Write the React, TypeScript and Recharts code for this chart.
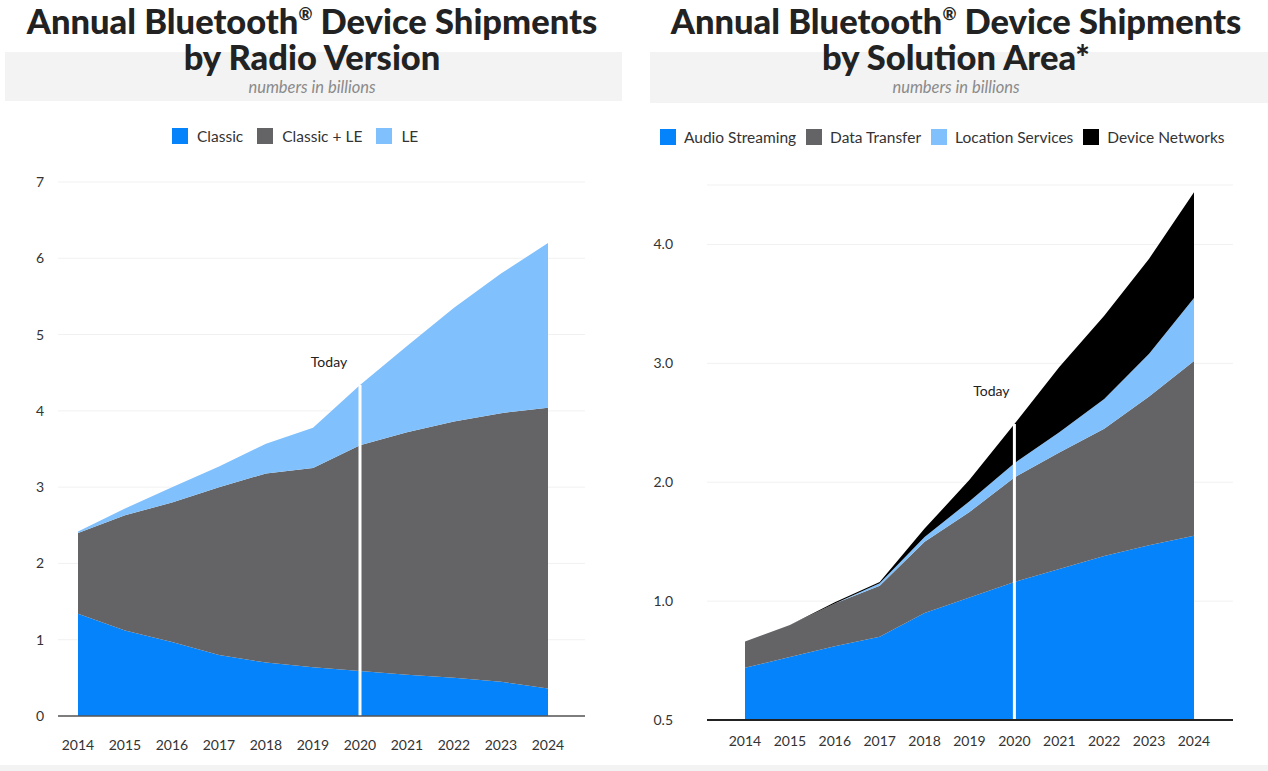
import React from 'react';
import { AreaChart, Area, XAxis, YAxis, CartesianGrid, ReferenceLine } from 'recharts';

// shared x categories
const years = ['2014', '2015', '2016', '2017', '2018', '2019', '2020', '2021', '2022', '2023', '2024'];
const todayYear = '2020';

// left chart: by radio version (billions, stacked)
const classic = [1.34, 1.12, 0.97, 0.8, 0.7, 0.64, 0.59, 0.54, 0.5, 0.45, 0.36];
const classicLe = [1.06, 1.51, 1.83, 2.2, 2.48, 2.61, 2.96, 3.18, 3.36, 3.52, 3.68];
const le = [0.02, 0.09, 0.2, 0.27, 0.39, 0.53, 0.79, 1.13, 1.49, 1.83, 2.16];
const radioTicks = [0, 1, 2, 3, 4, 5, 6, 7];

// right chart: by solution area. The source axis puts its labels evenly spaced
// (0.5, 1.0, 2.0, 3.0, 4.0), so values are read in those label steps.
const audio = [0.44, 0.53, 0.62, 0.7, 0.9, 1.03, 1.16, 1.27, 1.38, 1.47, 1.55];
const dataTransfer = [0.22, 0.27, 0.36, 0.43, 0.6, 0.72, 0.88, 0.98, 1.07, 1.25, 1.47];
const locationServices = [0, 0, 0, 0.02, 0.04, 0.09, 0.12, 0.17, 0.25, 0.36, 0.53];
const deviceNetworks = [0, 0, 0.01, 0.01, 0.07, 0.18, 0.33, 0.55, 0.7, 0.8, 0.89];
const solutionTicks = [0, 1, 2, 3, 4];
const solutionTickLabels = ['0.5', '1.0', '2.0', '3.0', '4.0'];

const BLUE = '#0583fb';
const GRAY = '#646466';
const LIGHT = '#80c0fc';
const BLACK = '#000000';

const radioData = years.map((year, i) => ({
  year,
  classic: classic[i],
  classicLe: classicLe[i],
  le: le[i],
}));

const solutionData = years.map((year, i) => ({
  year,
  audio: audio[i],
  dataTransfer: dataTransfer[i],
  locationServices: locationServices[i],
  deviceNetworks: deviceNetworks[i],
}));

const ti = years.indexOf(todayYear);
const radioToday = classic[ti] + classicLe[ti] + le[ti];
const solutionToday = audio[ti] + dataTransfer[ti] + locationServices[ti] + deviceNetworks[ti];

const FONT = 'Lato, "Open Sans", sans-serif';
const tickStyle = { fill: '#333', fontSize: 14, fontFamily: FONT };

const todayLabel = (dx: number, dy: number) => (props: any) => {
  const vb = props.viewBox || {};
  return (
    <text x={vb.x + dx} y={vb.y + dy} textAnchor="middle" fill="#222" fontSize={14} fontFamily={FONT}>
      Today
    </text>
  );
};

const Header = ({ left, width, line2, bandLeft, bandWidth, bandHeight }: any) => (
  <div style={{ position: 'absolute', left, top: 0, width }}>
    <div
      style={{
        position: 'absolute',
        left: bandLeft,
        top: 52,
        width: bandWidth,
        height: bandHeight,
        background: '#f3f3f3',
      }}
    />
    <div
      style={{
        position: 'absolute',
        left: 0,
        top: 3,
        width,
        textAlign: 'center',
        fontFamily: FONT,
        fontWeight: 900,
        fontSize: 34.5,
        lineHeight: '36px',
        color: '#222',
        whiteSpace: 'nowrap',
      }}
    >
      Annual Bluetooth<sup style={{ fontSize: 17, verticalAlign: 'top', lineHeight: '22px' }}>®</sup> Device Shipments
      <br />
      {line2}
    </div>
    <div
      style={{
        position: 'absolute',
        left: 0,
        top: 79,
        width,
        textAlign: 'center',
        fontFamily: FONT,
        fontStyle: 'italic',
        fontSize: 16.5,
        lineHeight: '17px',
        color: '#8a8a8a',
      }}
    >
      numbers in billions
    </div>
  </div>
);

const LegendRow = ({ left, top, items, gap, spacing }: any) => (
  <div style={{ position: 'absolute', left, top, display: 'flex', alignItems: 'center', fontFamily: FONT, fontSize: 15.5, color: '#333' }}>
    {items.map((it: any) => (
      <div key={it.name} style={{ display: 'flex', alignItems: 'center', marginRight: spacing }}>
        <span style={{ width: 16, height: 16, background: it.color, display: 'inline-block', marginRight: gap }} />
        <span>{it.name}</span>
      </div>
    ))}
  </div>
);

export default function App() {
  return (
    <div style={{ position: 'absolute', left: 0, top: 0, width: 1268, height: 771, background: '#fff', overflow: 'hidden' }}>
      <Header left={0} width={624} line2="by Radio Version" bandLeft={5} bandWidth={617} bandHeight={49} />
      <Header left={644} width={624} line2="by Solution Area*" bandLeft={6} bandWidth={618} bandHeight={51} />

      <LegendRow
        left={172}
        top={127}
        gap={9}
        spacing={14}
        items={[
          { name: 'Classic', color: BLUE },
          { name: 'Classic + LE', color: GRAY },
          { name: 'LE', color: LIGHT },
        ]}
      />
      <LegendRow
        left={660}
        top={128}
        gap={8}
        spacing={10}
        items={[
          { name: 'Audio Streaming', color: BLUE },
          { name: 'Data Transfer', color: GRAY },
          { name: 'Location Services', color: LIGHT },
          { name: 'Device Networks', color: BLACK },
        ]}
      />

      <div style={{ position: 'absolute', left: 0, top: 0 }}>
        <AreaChart width={634} height={771} data={radioData} margin={{ top: 182, right: 49, bottom: 15, left: 0 }}>
          <CartesianGrid vertical={false} stroke="#f1f1f1" />
          <XAxis
            dataKey="year"
            height={40}
            padding={{ left: 20, right: 37 }}
            tickLine={false}
            tickSize={0}
            tickMargin={24}
            axisLine={{ stroke: '#555', strokeWidth: 1.5 }}
            tick={tickStyle}
            interval={0}
          />
          <YAxis
            width={58}
            domain={[0, 7]}
            ticks={radioTicks}
            axisLine={false}
            tickLine={false}
            tickSize={0}
            tickMargin={14}
            tick={tickStyle}
          />
          <Area type="linear" dataKey="classic" stackId="a" stroke="none" fill={BLUE} fillOpacity={1} isAnimationActive={false} />
          <Area type="linear" dataKey="classicLe" stackId="a" stroke="none" fill={GRAY} fillOpacity={1} isAnimationActive={false} />
          <Area type="linear" dataKey="le" stackId="a" stroke="none" fill={LIGHT} fillOpacity={1} isAnimationActive={false} />
          <ReferenceLine
            segment={[
              { x: todayYear, y: 0 },
              { x: todayYear, y: radioToday },
            ]}
            stroke="#fff"
            strokeWidth={3}
            label={todayLabel(-31, -18)}
          />
        </AreaChart>
      </div>

      <div style={{ position: 'absolute', left: 634, top: 0 }}>
        <AreaChart width={634} height={771} data={solutionData} margin={{ top: 185, right: 35, bottom: 11, left: 0 }}>
          <CartesianGrid vertical={false} stroke="#f1f1f1" />
          <XAxis
            dataKey="year"
            height={40}
            padding={{ left: 38, right: 39 }}
            tickLine={false}
            tickSize={0}
            tickMargin={16}
            axisLine={{ stroke: '#222', strokeWidth: 2 }}
            tick={tickStyle}
            interval={0}
          />
          <YAxis
            width={73}
            domain={[0, 4.5]}
            ticks={solutionTicks}
            tickFormatter={(v: number) => solutionTickLabels[solutionTicks.indexOf(v)]}
            axisLine={false}
            tickLine={false}
            tickSize={0}
            tickMargin={34}
            tick={tickStyle}
            allowDataOverflow
          />
          <Area type="linear" dataKey="audio" stackId="s" stroke="none" fill={BLUE} fillOpacity={1} isAnimationActive={false} />
          <Area type="linear" dataKey="dataTransfer" stackId="s" stroke="none" fill={GRAY} fillOpacity={1} isAnimationActive={false} />
          <Area type="linear" dataKey="locationServices" stackId="s" stroke="none" fill={LIGHT} fillOpacity={1} isAnimationActive={false} />
          <Area type="linear" dataKey="deviceNetworks" stackId="s" stroke="none" fill={BLACK} fillOpacity={1} isAnimationActive={false} />
          <ReferenceLine
            segment={[
              { x: todayYear, y: 0 },
              { x: todayYear, y: solutionToday },
            ]}
            stroke="#fff"
            strokeWidth={3}
            label={todayLabel(-23, -28)}
          />
        </AreaChart>
      </div>

      <div style={{ position: 'absolute', left: 0, top: 765, width: 1268, height: 6, background: '#f3f3f3' }} />
    </div>
  );
}
